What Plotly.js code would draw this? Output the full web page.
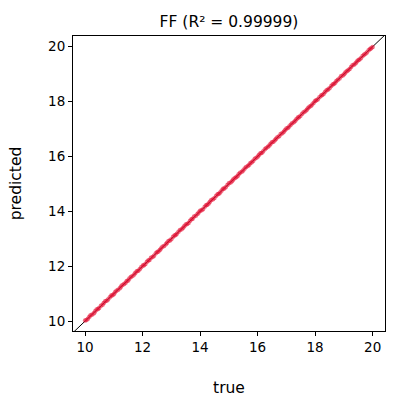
<!DOCTYPE html>
<html>
<head>
<meta charset="utf-8">
<script src="https://cdn.plot.ly/plotly-3.0.1.min.js"></script>
<style>html,body{margin:0;padding:0;background:#fff;}#chart{width:400px;height:400px;}</style>
</head>
<body>
<div id="chart"></div>
<script>
// Data
const trueVals = [
  10.00,10.05,10.10,10.15,10.19,10.25,10.31,10.35,10.40,10.45,10.49,10.55,10.61,10.65,10.70,10.75,10.80,10.86,10.91,10.95,
  11.00,11.04,11.09,11.15,11.21,11.25,11.30,11.36,11.41,11.45,11.50,11.54,11.59,11.65,11.71,11.75,11.80,11.85,11.90,11.95,
  12.01,12.05,12.10,12.15,12.20,12.24,12.29,12.35,12.40,12.46,12.51,12.55,12.60,12.64,12.69,12.75,12.81,12.85,12.90,12.95,
  13.00,13.06,13.11,13.15,13.19,13.25,13.30,13.36,13.41,13.45,13.50,13.55,13.60,13.65,13.70,13.74,13.79,13.85,13.91,13.95,
  14.00,14.05,14.10,14.16,14.21,14.25,14.30,14.34,14.39,14.45,14.50,14.56,14.61,14.65,14.70,14.75,14.80,14.84,14.89,14.95,
  15.00,15.06,15.11,15.15,15.20,15.25,15.30,15.34,15.39,15.45,15.50,15.55,15.60,15.66,15.71,15.75,15.80,15.85,15.90,15.96,
  16.01,16.05,16.10,16.14,16.19,16.25,16.30,16.36,16.41,16.45,16.50,16.55,16.60,16.64,16.69,16.75,16.80,16.86,16.91,16.95,
  17.00,17.05,17.10,17.15,17.20,17.26,17.31,17.35,17.40,17.44,17.49,17.55,17.60,17.66,17.71,17.75,17.80,17.85,17.90,17.95,
  18.00,18.04,18.09,18.15,18.21,18.25,18.30,18.35,18.40,18.45,18.50,18.56,18.61,18.65,18.70,18.74,18.79,18.85,18.90,18.96,
  19.01,19.05,19.10,19.15,19.20,19.25,19.30,19.36,19.41,19.45,19.50,19.54,19.59,19.65,19.70,19.75,19.80,19.86,19.91,19.95,20.00
];
const predictedVals = [
  10.02,10.04,10.09,10.16,10.21,10.24,10.29,10.36,10.42,10.44,10.48,10.56,10.60,10.66,10.72,10.74,10.79,10.87,10.93,10.94,
  10.98,11.05,11.11,11.14,11.20,11.26,11.32,11.35,11.40,11.46,11.48,11.55,11.61,11.64,11.70,11.76,11.82,11.84,11.89,11.96,
  12.03,12.04,12.08,12.16,12.21,12.23,12.31,12.34,12.38,12.47,12.52,12.54,12.59,12.65,12.71,12.74,12.80,12.86,12.92,12.94,
  12.98,13.07,13.12,13.14,13.18,13.26,13.32,13.35,13.40,13.46,13.52,13.54,13.58,13.66,13.71,13.73,13.81,13.84,13.90,13.96,
  14.02,14.04,14.08,14.17,14.22,14.24,14.29,14.35,14.41,14.44,14.49,14.57,14.62,14.64,14.69,14.76,14.82,14.83,14.88,14.96,
  15.02,15.05,15.10,15.16,15.21,15.24,15.28,15.35,15.41,15.44,15.49,15.56,15.62,15.65,15.70,15.76,15.79,15.84,15.92,15.95,
  16.00,16.06,16.12,16.13,16.18,16.26,16.31,16.35,16.40,16.46,16.52,16.54,16.59,16.65,16.70,16.74,16.82,16.85,16.90,16.96,
  17.02,17.04,17.09,17.16,17.21,17.25,17.30,17.36,17.42,17.43,17.48,17.56,17.61,17.65,17.70,17.76,17.81,17.84,17.89,17.96,
  18.02,18.05,18.08,18.16,18.22,18.24,18.29,18.36,18.41,18.44,18.49,18.57,18.62,18.64,18.69,18.75,18.80,18.84,18.92,18.95,
  19.00,19.06,19.11,19.14,19.19,19.26,19.32,19.35,19.40,19.46,19.51,19.53,19.58,19.66,19.71,19.74,19.79,19.87,19.92,19.94,19.99
];
const identityLine = [9, 21];
const xRange = [9.58, 20.43];
const yRange = [9.64, 20.39];
const xTicks = [10, 12, 14, 16, 18, 20];
const yTicks = [10, 12, 14, 16, 18, 20];
const titleText = 'FF (R² = 0.99999)';

const font = 'DejaVu Sans, sans-serif';
const traces = [
  {
    x: identityLine, y: identityLine, mode: 'lines', type: 'scatter',
    line: {color: '#000', width: 1}, hoverinfo: 'skip', showlegend: false
  },
  {
    x: trueVals, y: predictedVals, mode: 'markers', type: 'scatter',
    marker: {color: 'rgba(228,16,52,0.6)', size: 4.5, line: {width: 0}},
    showlegend: false
  }
];
const axisCommon = {
  showgrid: false, zeroline: false, showline: true, mirror: true,
  linecolor: '#000', linewidth: 1, ticks: 'outside', ticklen: 4, tickwidth: 1,
  tickcolor: '#000', tickfont: {family: font, size: 13.5, color: '#000'}
};
const layout = {
  width: 400, height: 400,
  margin: {l: 72.5, r: 14.5, t: 36, b: 69},
  paper_bgcolor: '#fff', plot_bgcolor: '#fff',
  title: {text: titleText, font: {family: font, size: 15.5, color: '#000'}, x: 0.5725, xanchor: 'center', y: 0.945, yanchor: 'middle'},
  xaxis: Object.assign({}, axisCommon, {range: xRange, tickvals: xTicks, ticktext: xTicks.map(String),
    title: {text: 'true', font: {family: font, size: 15.5, color: '#000'}, standoff: 27}}),
  yaxis: Object.assign({}, axisCommon, {range: yRange, tickvals: yTicks, ticktext: yTicks.map(String),
    title: {text: 'predicted', font: {family: font, size: 15.5, color: '#000'}, standoff: 22}}),
  showlegend: false
};
Plotly.newPlot('chart', traces, layout, {displayModeBar: false, staticPlot: true});
</script>
</body>
</html>
